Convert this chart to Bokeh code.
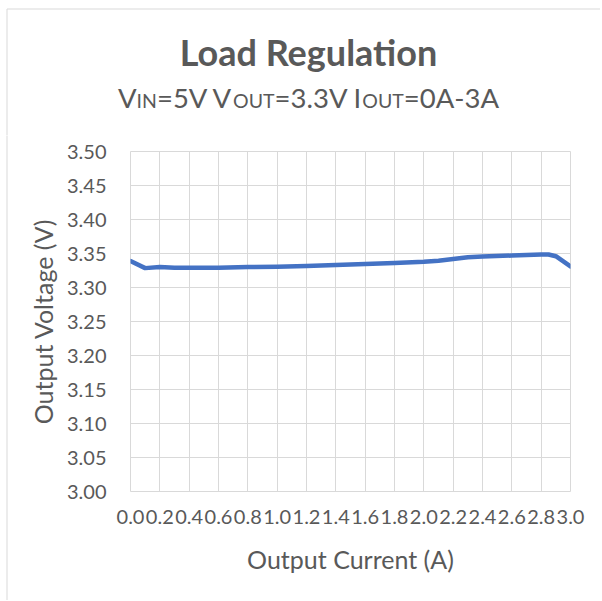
import os
import struct
from bokeh.plotting import figure
from bokeh.layouts import column, row
from bokeh.models import Range1d, FixedTicker, ColumnDataSource
from bokeh.core.properties import value
from bokeh.embed import file_html
from bokeh.resources import INLINE

# ---- data -------------------------------------------------------------
current = [0.0, 0.1, 0.2, 0.3, 0.4, 0.6, 0.8, 1.0, 1.2, 1.4, 1.6, 1.8,
           2.0, 2.1, 2.2, 2.3, 2.4, 2.6, 2.8, 2.85, 2.9, 3.0]
voltage = [3.339, 3.3285, 3.330, 3.329, 3.329, 3.329, 3.330, 3.3305,
           3.3315, 3.333, 3.3345, 3.336, 3.338, 3.3395, 3.342, 3.3445,
           3.3455, 3.347, 3.3485, 3.3485, 3.346, 3.331]
x_ticks = [0.0, 0.2, 0.4, 0.6, 0.8, 1.0, 1.2, 1.4, 1.6, 1.8, 2.0, 2.2,
           2.4, 2.6, 2.8, 3.0]
y_ticks = [3.00, 3.05, 3.10, 3.15, 3.20, 3.25, 3.30, 3.35, 3.40, 3.45, 3.50]
title_text = "Load Regulation"
subtitle_runs = [("V", "big"), ("IN", "small"), ("=5V V", "big"), ("OUT", "small"),
                 ("=3.3V I", "big"), ("OUT", "small"), ("=0A-3A", "big")]
x_title = "Output Current (A)"
y_title = "Output Voltage (V)"

FONT = "Lato"
GREY = "#595959"
GRID = "#d9d9d9"
BORDER = "#d9d9d9"
BLUE = "#4472c4"

W = 600
HEAD_H = 135          # height of the title strip
STRIP_W = 8           # narrow strip left of the plot (chart border)
MAIN_H = 465
BL, BR, BT, BB = 122, 30, 16, 109      # frame borders of the main figure
BIG, SMALL = 27.5, 19.5
TITLE_SIZE = 36
BASE_SHIFT = 0.38     # rendered baseline sits this many ems below the anchor


# ---- font metrics (for laying out the mixed-size subtitle) ------------
def _find_font(name):
    roots = ["/usr/share/fonts", "/usr/local/share/fonts",
             os.path.expanduser("~/.fonts"), os.path.expanduser("~/.local/share/fonts")]
    for r in roots:
        for dp, dn, fn in os.walk(r):
            for f in fn:
                if f.lower() == name:
                    return os.path.join(dp, f)
    return None


class Metrics:
    def __init__(self, path):
        d = open(path, "rb").read()
        base = 0
        if d[:4] == b"ttcf":
            base = struct.unpack_from(">I", d, 12)[0]
        n = struct.unpack_from(">H", d, base + 4)[0]
        t = {}
        for i in range(n):
            rec = base + 12 + 16 * i
            tag = d[rec:rec + 4].decode("latin1")
            off = struct.unpack_from(">I", d, rec + 8)[0]
            t[tag] = off
        self.upem = struct.unpack_from(">H", d, t["head"] + 18)[0]
        nhm = struct.unpack_from(">H", d, t["hhea"] + 34)[0]
        self.adv = [struct.unpack_from(">H", d, t["hmtx"] + 4 * i)[0] for i in range(nhm)]
        cm = t["cmap"]
        nsub = struct.unpack_from(">H", d, cm + 2)[0]
        best = None
        for i in range(nsub):
            pid, eid, so = struct.unpack_from(">HHI", d, cm + 4 + 8 * i)
            fmt = struct.unpack_from(">H", d, cm + so)[0]
            if pid in (0, 3) and fmt in (4, 12):
                if best is None or fmt == 12:
                    best = (cm + so, fmt)
        self.d = d
        self.cmap = best

    def gid(self, c):
        d = self.d
        s, fmt = self.cmap
        if fmt == 12:
            ng = struct.unpack_from(">I", d, s + 12)[0]
            for k in range(ng):
                a, b, g = struct.unpack_from(">III", d, s + 16 + 12 * k)
                if a <= c <= b:
                    return g + c - a
            return 0
        segx2 = struct.unpack_from(">H", d, s + 6)[0]
        ends = s + 14
        starts = ends + segx2 + 2
        deltas = starts + segx2
        ros = deltas + segx2
        for k in range(segx2 // 2):
            e = struct.unpack_from(">H", d, ends + 2 * k)[0]
            if c <= e:
                st = struct.unpack_from(">H", d, starts + 2 * k)[0]
                if c < st:
                    return 0
                delta = struct.unpack_from(">H", d, deltas + 2 * k)[0]
                ro = struct.unpack_from(">H", d, ros + 2 * k)[0]
                if ro == 0:
                    return (c + delta) & 0xFFFF
                g = struct.unpack_from(">H", d, ros + 2 * k + ro + 2 * (c - st))[0]
                return (g + delta) & 0xFFFF if g else 0
        return 0

    def width(self, s, size):
        tot = 0
        for ch in s:
            g = self.gid(ord(ch))
            tot += self.adv[min(g, len(self.adv) - 1)]
        return tot / self.upem * size


FALLBACK = {"V": .665, "=": .58, "5": .58, "3": .58, "0": .58, " ": .193, ".": .24,
            "I": .29, "N": .76, "O": .80, "U": .73, "T": .59, "A": .685, "-": .37}

metrics = None
try:
    fp = _find_font("lato-regular.ttf")
    if fp:
        metrics = Metrics(fp)
except Exception:
    metrics = None


def tw(s, size):
    if metrics is not None:
        try:
            return metrics.width(s, size)
        except Exception:
            pass
    return sum(FALLBACK.get(ch, .55) for ch in s) * size


def blank(width, height, xr, yr):
    f = figure(width=width, height=height, output_backend="svg", toolbar_location=None,
               x_range=Range1d(*xr), y_range=Range1d(*yr),
               x_axis_type=None, y_axis_type=None, min_border=0)
    f.outline_line_color = None
    f.grid.visible = False
    f.background_fill_color = "white"
    f.border_fill_color = "white"
    return f


# ---- title strip (pixel coordinates, y downwards) ---------------------
head = blank(W, HEAD_H, (0, W), (HEAD_H, 0))
head.segment(x0=[6.5, 6.5], y0=[8.5, 8.5], x1=[W + 5, 6.5], y1=[8.5, HEAD_H + 5],
             line_color=BORDER, line_width=1)

center_x = 308
head.text(x=[center_x], y=[65 - BASE_SHIFT * TITLE_SIZE], text=[title_text],
          text_font=value(FONT), text_font_style="bold",
          text_font_size=f"{TITLE_SIZE}px", text_color=GREY,
          text_align="center", text_baseline="alphabetic")

sizes = {"big": BIG, "small": SMALL}
total = sum(tw(s, sizes[k]) for s, k in subtitle_runs)
cx = center_x - total / 2
for s, k in subtitle_runs:
    head.text(x=[cx], y=[107 - BASE_SHIFT * sizes[k]], text=[s], text_font=value(FONT),
              text_font_size=f"{sizes[k]}px", text_color=GREY,
              text_align="left", text_baseline="alphabetic")
    cx += tw(s, sizes[k])

# ---- left strip carrying the chart border -----------------------------
strip = blank(STRIP_W, MAIN_H, (0, STRIP_W), (MAIN_H, 0))
strip.segment(x0=[6.5], y0=[-5], x1=[6.5], y1=[MAIN_H + 5], line_color=BORDER,
              line_width=1)

# ---- main chart -------------------------------------------------------
p = figure(width=W - STRIP_W, height=MAIN_H, output_backend="svg",
           toolbar_location=None,
           x_range=Range1d(0, 3.0), y_range=Range1d(3.0, 3.5),
           min_border_left=BL, min_border_right=BR, min_border_top=BT,
           min_border_bottom=BB)
p.background_fill_color = "white"
p.border_fill_color = "white"
p.outline_line_color = GRID
p.outline_line_width = 1

src = ColumnDataSource(dict(x=current, y=voltage))
p.line("x", "y", source=src, line_color=BLUE, line_width=4.5, line_join="round",
       line_cap="round")

p.xaxis.ticker = FixedTicker(ticks=x_ticks)
p.yaxis.ticker = FixedTicker(ticks=y_ticks)
p.xaxis.major_label_overrides = {t: f"{t:.1f}" for t in x_ticks}
p.yaxis.major_label_overrides = {t: f"{t:.2f}" for t in y_ticks}

for ax in (p.xaxis, p.yaxis):
    ax.axis_line_color = None
    ax.major_tick_line_color = None
    ax.minor_tick_line_color = None
    ax.major_tick_out = 0
    ax.major_tick_in = 0
    ax.major_label_text_font = FONT
    ax.major_label_text_font_size = "20px"
    ax.major_label_text_color = GREY
    ax.axis_label_text_font = FONT
    ax.axis_label_text_font_size = "25px"
    ax.axis_label_text_font_style = "normal"
    ax.axis_label_text_color = GREY

p.xaxis.axis_label = x_title
p.yaxis.axis_label = y_title
p.xaxis.major_label_standoff = 18
p.yaxis.major_label_standoff = 24
p.xaxis.axis_label_standoff = 17
p.yaxis.axis_label_standoff = 6

p.xgrid.ticker = FixedTicker(ticks=x_ticks)
p.ygrid.ticker = FixedTicker(ticks=y_ticks)
p.grid.grid_line_color = GRID
p.grid.grid_line_width = 1

layout = column(head, row(column(strip, spacing=0), p, spacing=0), spacing=0)
open("out.html", "w").write(file_html(layout, INLINE))
